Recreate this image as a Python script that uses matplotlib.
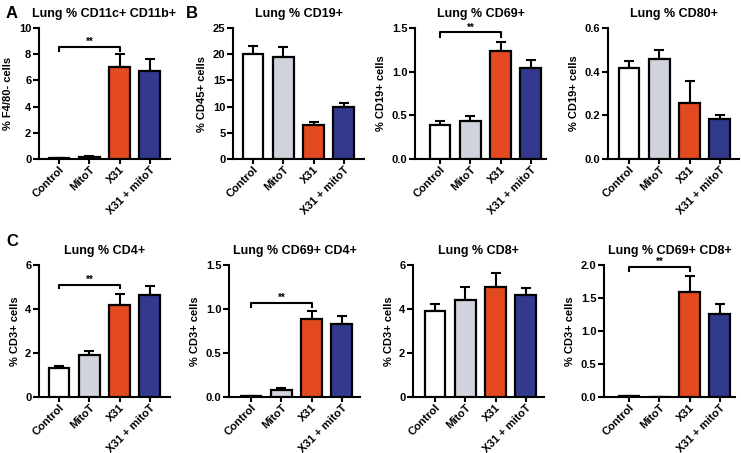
import matplotlib
matplotlib.use("Agg")
import matplotlib.pyplot as plt

plt.rcParams['font.family'] = ['Liberation Sans', 'DejaVu Sans']
plt.rcParams['font.weight'] = 'bold'

groups = ['Control', 'MitoT', 'X31', 'X31 + mitoT']
bar_colors = ['#ffffff', '#d1d4dc', '#e34a1f', '#33398c']

# panel data: title, ylabel, ymax, yticks, means, sem
titles = ['Lung % CD11c+ CD11b+', 'Lung % CD19+', 'Lung % CD69+', 'Lung % CD80+',
          'Lung % CD4+', 'Lung % CD69+ CD4+', 'Lung % CD8+', 'Lung % CD69+ CD8+']
ylabels = ['% F4/80- cells', '% CD45+ cells', '% CD19+ cells', '% CD19+ cells',
           '% CD3+ cells', '% CD3+ cells', '% CD3+ cells', '% CD3+ cells']
yticks = [[0, 2, 4, 6, 8, 10], [0, 5, 10, 15, 20, 25], [0.0, 0.5, 1.0, 1.5],
          [0.0, 0.2, 0.4, 0.6], [0, 2, 4, 6], [0.0, 0.5, 1.0, 1.5],
          [0, 2, 4, 6], [0.0, 0.5, 1.0, 1.5, 2.0]]
ytick_fmt = ['{:.0f}', '{:.0f}', '{:.1f}', '{:.1f}', '{:.0f}', '{:.1f}', '{:.0f}', '{:.1f}']
means = [[0.08, 0.15, 7.02, 6.70],
         [20.1, 19.5, 6.55, 9.85],
         [0.39, 0.435, 1.24, 1.045],
         [0.416, 0.456, 0.258, 0.185],
         [1.33, 1.89, 4.2, 4.62],
         [0.011, 0.085, 0.886, 0.832],
         [3.92, 4.39, 5.02, 4.65],
         [0.01, 0.004, 1.595, 1.256]]
errs = [[0.02, 0.05, 1.0, 0.9],
        [1.4, 1.9, 0.55, 0.85],
        [0.04, 0.055, 0.1, 0.09],
        [0.035, 0.045, 0.098, 0.018],
        [0.09, 0.22, 0.5, 0.41],
        [0.006, 0.022, 0.09, 0.087],
        [0.3, 0.61, 0.6, 0.32],
        [0.005, 0.002, 0.235, 0.155]]
# significance bracket (Control vs X31): bracket height, or None
sig_y = [8.57, None, 1.45, None, 5.1, 1.07, None, 1.965]
sig_drop = [0.3, None, 0.05, None, 0.16, 0.045, None, 0.055]

# layout in pixels: (spine x, first bar center x, top y, bottom y)
W, H = 741, 453
layout = [(39, 59, 28, 159), (233, 253, 28, 159), (415, 440, 28, 159), (608, 629, 28, 159),
          (39, 59, 265, 397), (229, 251, 265, 397), (413, 435, 265, 397), (604, 629, 265, 397)]
spacing = 30.3
ax_width = 131

fig = plt.figure(figsize=(W / 100, H / 100), dpi=100)

for i in range(8):
    sx, c0, ty, by = layout[i]
    ax = fig.add_axes([sx / W, 1 - by / H, ax_width / W, (by - ty) / H])
    x = list(range(4))
    ax.bar(x, means[i], width=0.69, color=bar_colors, edgecolor='black', linewidth=1.6, zorder=3)
    ax.errorbar(x, means[i], yerr=[[0] * 4, errs[i]], fmt='none', ecolor='black',
                elinewidth=1.5, capsize=3.5, capthick=1.5, zorder=2)
    x0 = -(c0 - sx) / spacing
    ax.set_xlim(x0, x0 + ax_width / spacing)
    ax.set_ylim(0, yticks[i][-1])
    ax.set_yticks(yticks[i])
    ax.set_yticklabels([ytick_fmt[i].format(v) for v in yticks[i]])
    ax.set_xticks(x)
    ax.set_xticklabels(groups, rotation=45, ha='right', va='top', rotation_mode='anchor')
    ax.spines['top'].set_visible(False)
    ax.spines['right'].set_visible(False)
    ax.spines['left'].set_linewidth(1.5)
    ax.spines['bottom'].set_linewidth(1.5)
    ax.spines['left'].set_bounds(0, yticks[i][-1])
    ax.tick_params(axis='both', width=1.5, length=4, labelsize=8, pad=1.5)
    ax.tick_params(axis='x', length=3.5, pad=0.5)
    for lbl in ax.get_xticklabels() + ax.get_yticklabels():
        lbl.set_fontweight('bold')
    ax.set_ylabel(ylabels[i], fontsize=8, fontweight='bold', labelpad=4)
    ax.set_title(titles[i], fontsize=9, fontweight='bold', pad=8)
    ax.patch.set_alpha(0)
    if sig_y[i] is not None:
        yb = sig_y[i]
        d = sig_drop[i]
        ax.plot([0, 0, 2, 2], [yb - d, yb, yb, yb - d], color='black', lw=1.5,
                clip_on=False, zorder=4)
        ax.text(1, yb, '**', ha='center', va='bottom', fontsize=7, fontweight='bold')

fig.text(6 / W, 1 - 13 / H, 'A', fontsize=12, fontweight='bold', va='center')
fig.text(186 / W, 1 - 13 / H, 'B', fontsize=12, fontweight='bold', va='center')
fig.text(6 / W, 1 - 241 / H, 'C', fontsize=12, fontweight='bold', va='center')

fig.savefig('out.png', dpi=100)
